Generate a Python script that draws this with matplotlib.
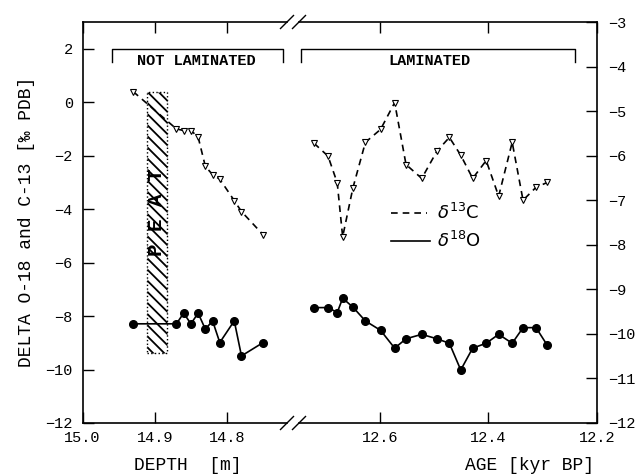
import matplotlib
matplotlib.use("Agg")
import matplotlib.pyplot as plt
from matplotlib.patches import Rectangle

plt.rcParams["font.family"] = ["Liberation Mono", "DejaVu Sans Mono"]
plt.rcParams["font.size"] = 11
plt.rcParams["hatch.linewidth"] = 1.3

# --- left panel: not laminated section, by depth [m] ---
depth = [14.93, 14.87, 14.86, 14.85, 14.84, 14.83, 14.82, 14.81, 14.79, 14.78, 14.75]
d13c_depth = [0.40, -1.00, -1.06, -1.06, -1.30, -2.40, -2.71, -2.88, -3.68, -4.09, -4.96]
d18o_depth = [-8.29, -8.29, -7.89, -8.29, -7.89, -8.49, -8.18, -8.99, -8.18, -9.49, -8.99]

# peat layer (depth span, value span)
peat_depth = (14.911, 14.8835)
peat_vals = (0.4, -9.4)

# --- right panel: laminated section, by age [kyr BP] ---
age = [12.722, 12.696, 12.679, 12.669, 12.650, 12.627, 12.599, 12.573, 12.552, 12.523,
       12.495, 12.472, 12.451, 12.429, 12.404, 12.381, 12.356, 12.336, 12.312, 12.291]
d13c_age = [-5.72, -6.01, -6.61, -7.82, -6.72, -5.70, -5.41, -4.81, -6.20, -6.51,
            -5.90, -5.59, -5.99, -6.51, -6.11, -6.91, -5.70, -7.00, -6.71, -6.60]
d18o_age = [-9.41, -9.41, -9.52, -9.20, -9.40, -9.71, -9.92, -10.32, -10.11, -10.01,
            -10.11, -10.21, -10.81, -10.32, -10.21, -10.01, -10.21, -9.86, -9.86, -10.26]

left_yticks = [-12, -10, -8, -6, -4, -2, 0, 2]
right_yticks = [-12, -11, -10, -9, -8, -7, -6, -5, -4, -3]

W, H = 640, 476
fig = plt.figure(figsize=(W / 100, H / 100), dpi=100)

x0, x1, x2, x3 = 82.5, 287.0, 299.0, 596.7
ytop, ybot = 22.0, 423.0
ax1 = fig.add_axes([x0 / W, 1 - ybot / H, (x1 - x0) / W, (ybot - ytop) / H])
ax2 = fig.add_axes([x2 / W, 1 - ybot / H, (x3 - x2) / W, (ybot - ytop) / H])

dash = (0, (4, 3))
tri = dict(marker="v", markersize=5, markerfacecolor="white", markeredgecolor="black",
           markeredgewidth=0.8)
dot = dict(marker="o", markersize=5.5, color="black")

# left panel
ax1.add_patch(Rectangle((peat_depth[0], peat_vals[1]), peat_depth[1] - peat_depth[0],
                        peat_vals[0] - peat_vals[1], facecolor="none", edgecolor="black",
                        linestyle=":", linewidth=1.0, hatch="\\\\\\", zorder=1))
ax1.plot(depth, d13c_depth, color="black", linestyle=dash, linewidth=1.2, zorder=3, **tri)
ax1.plot(depth, d18o_depth, linewidth=1.2, zorder=3, **dot)
ax1.text(sum(peat_depth) / 2, -4.1, "P E A T", rotation=90, ha="center", va="center",
         fontsize=15, fontweight="bold", zorder=4)
ax1.set_xlim(15.0, 14.717)
ax1.set_ylim(-12, 3)
ax1.set_xticks([15.0, 14.9, 14.8])
ax1.set_xticklabels(["15.0", "14.9", "14.8"])
ax1.set_yticks(left_yticks)
ax1.spines["right"].set_visible(False)
ax1.tick_params(direction="in", length=8, width=1.0, top=True, right=False,
                labelsize=11)
ax1.tick_params(axis="y", pad=7)
ax1.tick_params(axis="x", pad=6)

# right panel
ax2.plot(age, d13c_age, color="black", linestyle=dash, linewidth=1.2, zorder=3, **tri)
ax2.plot(age, d18o_age, linewidth=1.2, zorder=3, **dot)
ax2.set_xlim(12.7496, 12.2)
ax2.set_ylim(-12, -3)
ax2.set_xticks([12.6, 12.4, 12.2])
ax2.set_yticks(right_yticks)
ax2.spines["left"].set_visible(False)
ax2.yaxis.tick_right()
ax2.tick_params(direction="in", length=8, width=1.0, top=True, left=False, right=True,
                labelsize=11)
ax2.tick_params(axis="y", pad=8)
ax2.tick_params(axis="x", pad=6)

for ax in (ax1, ax2):
    for sp in ax.spines.values():
        sp.set_linewidth(1.2)

# axis break marks
for ax, xs in ((ax1, 1.0), (ax2, 0.0)):
    bb = ax.get_position()
    dx = 6.5 / (bb.width * W)
    dy = 6.5 / (bb.height * H)
    for yy in (0.0, 1.0):
        ax.plot([xs - dx, xs + dx], [yy - dy, yy + dy], color="black", linewidth=1.0,
                transform=ax.transAxes, clip_on=False)

# section brackets
def bracket(ax, xa, xb, label, xt):
    ax.plot([xa, xa, xb, xb], [0.900, 0.933, 0.933, 0.900], color="black", linewidth=1.0,
            transform=ax.transAxes, clip_on=False)
    ax.text(xt, 0.903, label, transform=ax.transAxes, ha="center", va="center",
            fontsize=11, fontweight="bold")

bracket(ax1, 0.144, 0.980, "NOT LAMINATED", 0.555)
bracket(ax2, 0.0067, 0.927, "LAMINATED", 0.437)

# legend
ax2.plot([0.309, 0.430], [0.524, 0.524], color="black", linestyle=dash, linewidth=1.2,
         transform=ax2.transAxes)
ax2.plot([0.309, 0.440], [0.454, 0.454], color="black", linewidth=1.2,
         transform=ax2.transAxes)
ax2.text(0.462, 0.524, r"$\delta^{13}$C", transform=ax2.transAxes, ha="left", va="center",
         fontsize=13, family="DejaVu Sans")
ax2.text(0.462, 0.454, r"$\delta^{18}$O", transform=ax2.transAxes, ha="left", va="center",
         fontsize=13, family="DejaVu Sans")

# axis titles
fig.text(27 / W, 1 - 222 / H, "DELTA O-18 and C-13 [\u2030 PDB]", rotation=90,
         ha="center", va="center", fontsize=13)
fig.text(188 / W, 1 - 465 / H, "DEPTH  [m]", ha="center", va="center", fontsize=13)
fig.text(594 / W, 1 - 465 / H, "AGE [kyr BP]", ha="right", va="center", fontsize=13)

fig.savefig("out.png", dpi=100)
